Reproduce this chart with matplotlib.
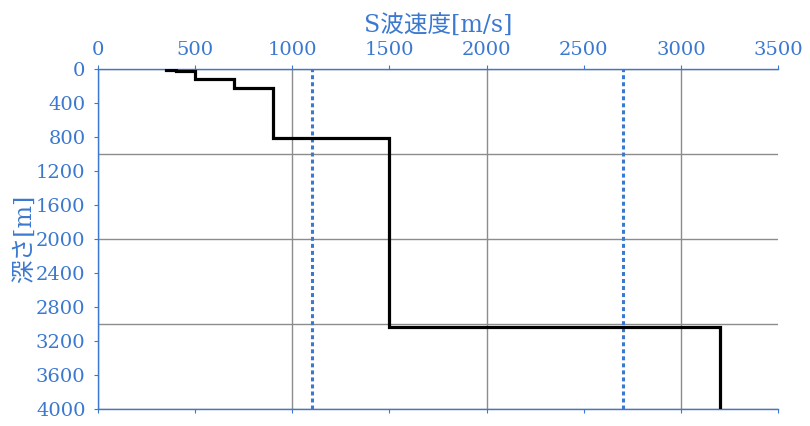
import numpy as np
import matplotlib.pyplot as plt
from matplotlib.ticker import MultipleLocator

plt.rcParams['font.family'] = ['DejaVu Serif', 'Noto Sans CJK JP']

# データ
vs = [350, 400, 500, 700, 900, 1500, 3200]          # S波速度 [m/s]
tops = [0, 20, 30, 120, 230, 820, 3030]              # 層上面深さ [m]
bottoms = tops[1:] + [4000]
ref_vs = [1100, 2700]                                 # 参照速度 (点線)

blue = '#3b78d0'
grid_c = '#8c8c8c'

fig = plt.figure(figsize=(8.1, 4.26), dpi=100)
ax = fig.add_axes([0.121, 0.039, 0.8395, 0.8])

x = np.repeat(vs, 2)
y = np.column_stack([tops, bottoms]).ravel()
ax.plot(x, y, color='black', lw=2.3, solid_joinstyle='miter', zorder=4)

for v in ref_vs:
    ax.axvline(v, color=blue, lw=2.2, ls=(0, (1.3, 1.0)), dash_capstyle='butt', zorder=3)

ax.set_xlim(0, 3500)
ax.set_ylim(4000, 0)

ax.xaxis.set_major_locator(MultipleLocator(500))
ax.xaxis.set_minor_locator(MultipleLocator(1000))
ax.yaxis.set_major_locator(MultipleLocator(400))
ax.yaxis.set_minor_locator(MultipleLocator(1000))
ax.xaxis.remove_overlapping_locs = False
ax.yaxis.remove_overlapping_locs = False

ax.grid(True, which='minor', color=grid_c, lw=1.0)
ax.grid(False, which='major')
ax.set_axisbelow(True)

ax.tick_params(which='major', top=True, bottom=True, labeltop=True, labelbottom=False,
               direction='out', length=3, width=0.8, color=blue, labelcolor=blue,
               labelsize=14)
ax.tick_params(axis='x', which='major', pad=4)
ax.tick_params(axis='y', which='major', pad=6)
ax.tick_params(which='minor', length=0)

for side in ['top', 'bottom', 'left']:
    ax.spines[side].set_color(blue)
    ax.spines[side].set_linewidth(1.0)
ax.spines['right'].set_visible(False)

ax.xaxis.set_label_position('top')
ax.set_xlabel('S波速度[m/s]', color=blue, fontsize=17, labelpad=6)
ax.set_ylabel('深さ[m]', color=blue, fontsize=17, labelpad=0)

fig.savefig('out.png', dpi=100)
